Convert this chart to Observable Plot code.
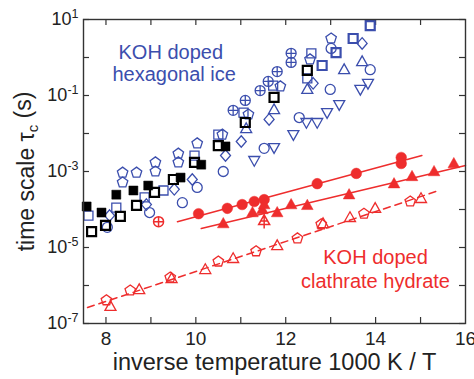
<!DOCTYPE html>
<html><head><meta charset="utf-8">
<script src="https://cdn.jsdelivr.net/npm/d3@7"></script>
<script src="https://cdn.jsdelivr.net/npm/@observablehq/plot@0.6"></script>
<style>html,body{margin:0;padding:0;background:#fff} svg{display:block}</style>
</head><body><div id="chart"></div>
<script>
// Data: [x = 1000 K / T, log10(tau_c / s)]
// KOH doped hexagonal ice
const blackFilledSquares = [[7.57,-3.92],[7.9,-4.08],[8.23,-3.61],[8.61,-3.5],[8.94,-3.37],[9.66,-3.16],[10.12,-2.82],[10.66,-2.34]];
const blackOpenSquares = [[7.68,-4.58],[7.99,-4.42],[8.32,-4.18],[8.68,-3.89],[9.08,-3.55],[9.5,-3.21],[9.97,-2.76],[10.5,-2.32],[11.1,-1.71],[11.74,-1.05],[12.48,-0.34]];
const blueSquares = [[7.61,-4.16],[8.23,-3.95],[8.86,-3.68],[9.28,-3.5],[9.97,-2.58],[10.5,-2.03],[11.06,-1.45],[11.72,-0.74],[12.48,-0.55],[12.57,0.11]];
const blueSquaresBold = [[12.81,-0.21],[13.12,0.13],[13.5,0.5],[13.88,0.84]];
const bluePentagons = [[8.37,-3.03],[8.37,-3.29],[8.68,-3.03],[9.1,-2.76],[9.1,-3.0],[9.61,-2.53],[9.61,-2.76],[10.03,-2.26],[10.59,-2.03],[11.17,-1.5],[11.88,-0.76],[12.54,-0.05],[13.01,0.5]];
const blueCrossed = [[10.83,-1.39],[11.1,-1.13],[11.43,-0.87],[11.61,-0.63],[11.81,-0.37],[12.12,0.11],[12.12,-0.13]];
const blueDiamonds = [[8.08,-4.16],[8.9,-3.87],[9.52,-3.47],[9.92,-3.21],[10.66,-2.58],[11.01,-2.21],[11.63,-1.63],[12.61,-0.68],[13.7,0.37]];
const blueCircles = [[8.03,-4.47],[8.97,-4.08],[9.7,-3.82],[10.03,-3.42],[10.61,-3.0],[11.52,-2.39],[12.3,-1.58],[12.99,-0.84],[13.01,0.24],[13.88,-0.32]];
const blueTrianglesUp = [[11.12,-1.87],[11.74,-1.37],[12.48,-0.84],[13.3,-0.32],[13.7,-0.11]];
const blueTrianglesDown = [[11.3,-2.71],[11.74,-2.37],[12.17,-2.03],[12.46,-1.71],[12.7,-1.71],[12.92,-1.45],[13.19,-1.24],[13.66,-0.84],[13.83,-0.68]];
// KOH doped clathrate hydrate
const redCrossedCircle = [[9.17,-4.32]];
const redCrossedTriangle = [[11.52,-4.29]];
const redFilledCircles = [[10.06,-4.11],[10.7,-3.97],[11.03,-3.87],[11.3,-3.79],[11.52,-3.74],[12.7,-3.32],[13.57,-3.05],[14.57,-2.63],[14.57,-2.79]];
const redFilledTriangles = [[10.61,-4.37],[11.26,-4.08],[11.48,-4.0],[11.52,-3.87],[11.81,-4.08],[12.12,-3.87],[12.48,-3.89],[13.41,-3.61],[14.41,-3.32],[14.81,-3.13],[15.3,-3.0],[15.74,-2.79]];
const redOpenTriangles = [[8.1,-6.55],[8.74,-6.11],[9.46,-5.82],[10.21,-5.58],[10.83,-5.29],[11.81,-4.95],[12.83,-4.37],[13.43,-4.21],[13.99,-3.97],[15.01,-3.71]];
const redOpenPentagons = [[8.01,-6.39],[8.54,-6.13],[9.43,-5.79],[10.5,-5.37],[11.34,-5.1],[12.26,-4.76],[12.79,-4.39],[13.74,-4.11],[14.77,-3.79]];
// fit lines (end points)
const fitCircles = [[9.59,-4.32],[15.03,-2.58]];
const fitTriangles = [[10.12,-4.5],[16,-2.84]];
const fitOpen = [[7.59,-6.58],[15.41,-3.5]];
// ticks
const xTickMarks = [8,9,10,11,12,13,14,15];
const xTickLabels = [8,10,12,14,16];
const yTickMarks = [1e-7,1e-6,1e-5,1e-4,1e-3,1e-2,1e-1,1,10];
const yTickLabels = [1e-7,1e-5,1e-3,1e-1,10];

const BLUE = "#3b4ead", RED = "#ee2d2d", AX = "#333";
const W = 474, H = 379, ML = 83, MR = 9, MT = 19, MB = 56;
const PW = W - ML - MR, PH = H - MT - MB;

function sym(fn){ return {draw(c, size){ const r = Math.sqrt(size/Math.PI); fn(c, r); }}; }
const squareSym = sym((c,r)=>{const h=r*0.9; c.moveTo(-h,-h); c.lineTo(h,-h); c.lineTo(h,h); c.lineTo(-h,h); c.closePath();});
const triUp = sym((c,r)=>{c.moveTo(0,-1.15*r); c.lineTo(1.1*r,0.8*r); c.lineTo(-1.1*r,0.8*r); c.closePath();});
const triDown = sym((c,r)=>{c.moveTo(0,1.15*r); c.lineTo(1.1*r,-0.8*r); c.lineTo(-1.1*r,-0.8*r); c.closePath();});
const diamondSym = sym((c,r)=>{c.moveTo(0,-1.15*r); c.lineTo(r,0); c.lineTo(0,1.15*r); c.lineTo(-r,0); c.closePath();});
const pentSym = sym((c,r)=>{const R=1.1*r; for(let k=0;k<5;k++){const a=-Math.PI/2+k*2*Math.PI/5; if(k) c.lineTo(R*Math.cos(a),R*Math.sin(a)); else c.moveTo(R*Math.cos(a),R*Math.sin(a));} c.closePath();});
const circPlus = sym((c,r)=>{c.moveTo(r,0); c.arc(0,0,r,0,2*Math.PI); c.moveTo(-r,0); c.lineTo(r,0); c.moveTo(0,-r); c.lineTo(0,r);});
const triPlus = sym((c,r)=>{c.moveTo(0,-1.15*r); c.lineTo(1.1*r,0.8*r); c.lineTo(-1.1*r,0.8*r); c.closePath(); c.moveTo(0,-1.6*r); c.lineTo(0,1.6*r); c.moveTo(-0.8*r,0.1*r); c.lineTo(0.8*r,0.1*r);});

const X = d => d[0], Y = d => 10 ** d[1];
const dots = (data, symbol, opts) => Plot.dot(data, {x: X, y: Y, symbol, r: 5, ...opts});
const open = (color, sw=1.3) => ({fill: "none", stroke: color, strokeWidth: sw});
const filled = color => ({fill: color, stroke: color, strokeWidth: 0.5});

const plot = Plot.plot({
  width: W, height: H,
  marginLeft: ML, marginRight: MR, marginTop: MT, marginBottom: MB,
  x: {domain: [7.5, 16]},
  y: {type: "log", domain: [1e-7, 10]},
  style: {fontFamily: "'Liberation Sans', Arial, sans-serif", background: "white", overflow: "visible"},
  marks: [
    // ticks inside on all four sides
    Plot.tickY(yTickMarks, {y: d=>d, insetRight: PW-6, stroke: AX, strokeWidth: 1.2}),
    Plot.tickY(yTickMarks, {y: d=>d, insetLeft: PW-6, stroke: AX, strokeWidth: 1.2}),
    Plot.tickX(xTickMarks, {x: d=>d, insetTop: PH-6, stroke: AX, strokeWidth: 1.2}),
    Plot.tickX(xTickMarks, {x: d=>d, insetBottom: PH-6, stroke: AX, strokeWidth: 1.2}),
    Plot.axisX(xTickLabels, {tickSize: 0, tickPadding: 8, fontSize: 19, label: null, fill: "#222"}),
    Plot.axisY(yTickLabels, {tickSize: 0, tickPadding: 5, fontSize: 18, label: null, fill: "#222",
      tickFormat: d => "10^" + Math.round(Math.log10(d))}),
    // hexagonal ice
    dots(blueCircles, "circle", open(BLUE)),
    dots(blueDiamonds, diamondSym, open(BLUE)),
    dots(blueTrianglesUp, triUp, open(BLUE)),
    dots(blueTrianglesDown, triDown, open(BLUE)),
    dots(bluePentagons, pentSym, open(BLUE)),
    dots(blueCrossed, circPlus, open(BLUE)),
    dots(blueSquares, squareSym, open(BLUE)),
    dots(blueSquaresBold, squareSym, open(BLUE, 2.2)),
    dots(blackOpenSquares, squareSym, open("#000", 2.2)),
    dots(blackFilledSquares, squareSym, filled("#000")),
    // clathrate hydrate
    Plot.line(fitCircles, {x: X, y: Y, stroke: RED, strokeWidth: 1.5}),
    Plot.line(fitTriangles, {x: X, y: Y, stroke: RED, strokeWidth: 1.5}),
    Plot.line(fitOpen, {x: X, y: Y, stroke: RED, strokeWidth: 1.5, strokeDasharray: "7,5"}),
    dots(redFilledCircles, "circle", {...filled(RED), r: 5.3}),
    dots(redFilledTriangles, triUp, {...filled(RED), r: 5.3}),
    dots(redOpenTriangles, triUp, open(RED)),
    dots(redOpenPentagons, pentSym, open(RED)),
    dots(redCrossedCircle, circPlus, open(RED, 1.5)),
    dots(redCrossedTriangle, triPlus, open(RED, 1.5)),
    Plot.frame({stroke: AX, strokeWidth: 1.4}),
    // annotations
    Plot.text(["KOH doped"], {frameAnchor: "top-left", dx: 35, dy: 39, textAnchor: "start", lineAnchor: "bottom", fontSize: 20, fill: BLUE}),
    Plot.text(["hexagonal ice"], {frameAnchor: "top-left", dx: 29, dy: 61, textAnchor: "start", lineAnchor: "bottom", fontSize: 20, fill: BLUE}),
    Plot.text(["KOH doped"], {frameAnchor: "top-left", dx: 292, dy: 244, textAnchor: "middle", lineAnchor: "bottom", fontSize: 20, fill: RED}),
    Plot.text(["clathrate hydrate"], {frameAnchor: "top-left", dx: 292, dy: 268, textAnchor: "middle", lineAnchor: "bottom", fontSize: 20, fill: RED}),
    // axis titles
    Plot.text(["inverse temperature 1000 K / T"], {frameAnchor: "bottom", dy: 46, textAnchor: "middle", lineAnchor: "bottom", fontSize: 23.5, fill: "#222"}),
    Plot.text(["time scale τ_c (s)"], {frameAnchor: "left", rotate: -90, dx: -57, textAnchor: "middle", lineAnchor: "middle", fontSize: 23, fill: "#222"})
  ]
});

// superscripts and subscripts as real tspans
const NS = "http://www.w3.org/2000/svg";
d3.select(plot).selectAll("text").each(function(){
  const t = this.textContent;
  let m = /^10\^(-?\d+)$/.exec(t);
  if (m) {
    this.textContent = "10";
    const s = document.createElementNS(NS, "tspan");
    s.setAttribute("dy", "-0.55em"); s.setAttribute("font-size", "12.5");
    s.textContent = m[1];
    this.appendChild(s);
    return;
  }
  if (t === "time scale τ_c (s)") {
    this.textContent = "time scale τ";
    const s = document.createElementNS(NS, "tspan");
    s.setAttribute("dy", "0.3em"); s.setAttribute("font-size", "15"); s.textContent = "c";
    const s2 = document.createElementNS(NS, "tspan");
    s2.setAttribute("dy", "-0.3em"); s2.textContent = " (s)";
    this.appendChild(s); this.appendChild(s2);
  }
});
document.getElementById("chart").appendChild(plot);
</script>
</body></html>
